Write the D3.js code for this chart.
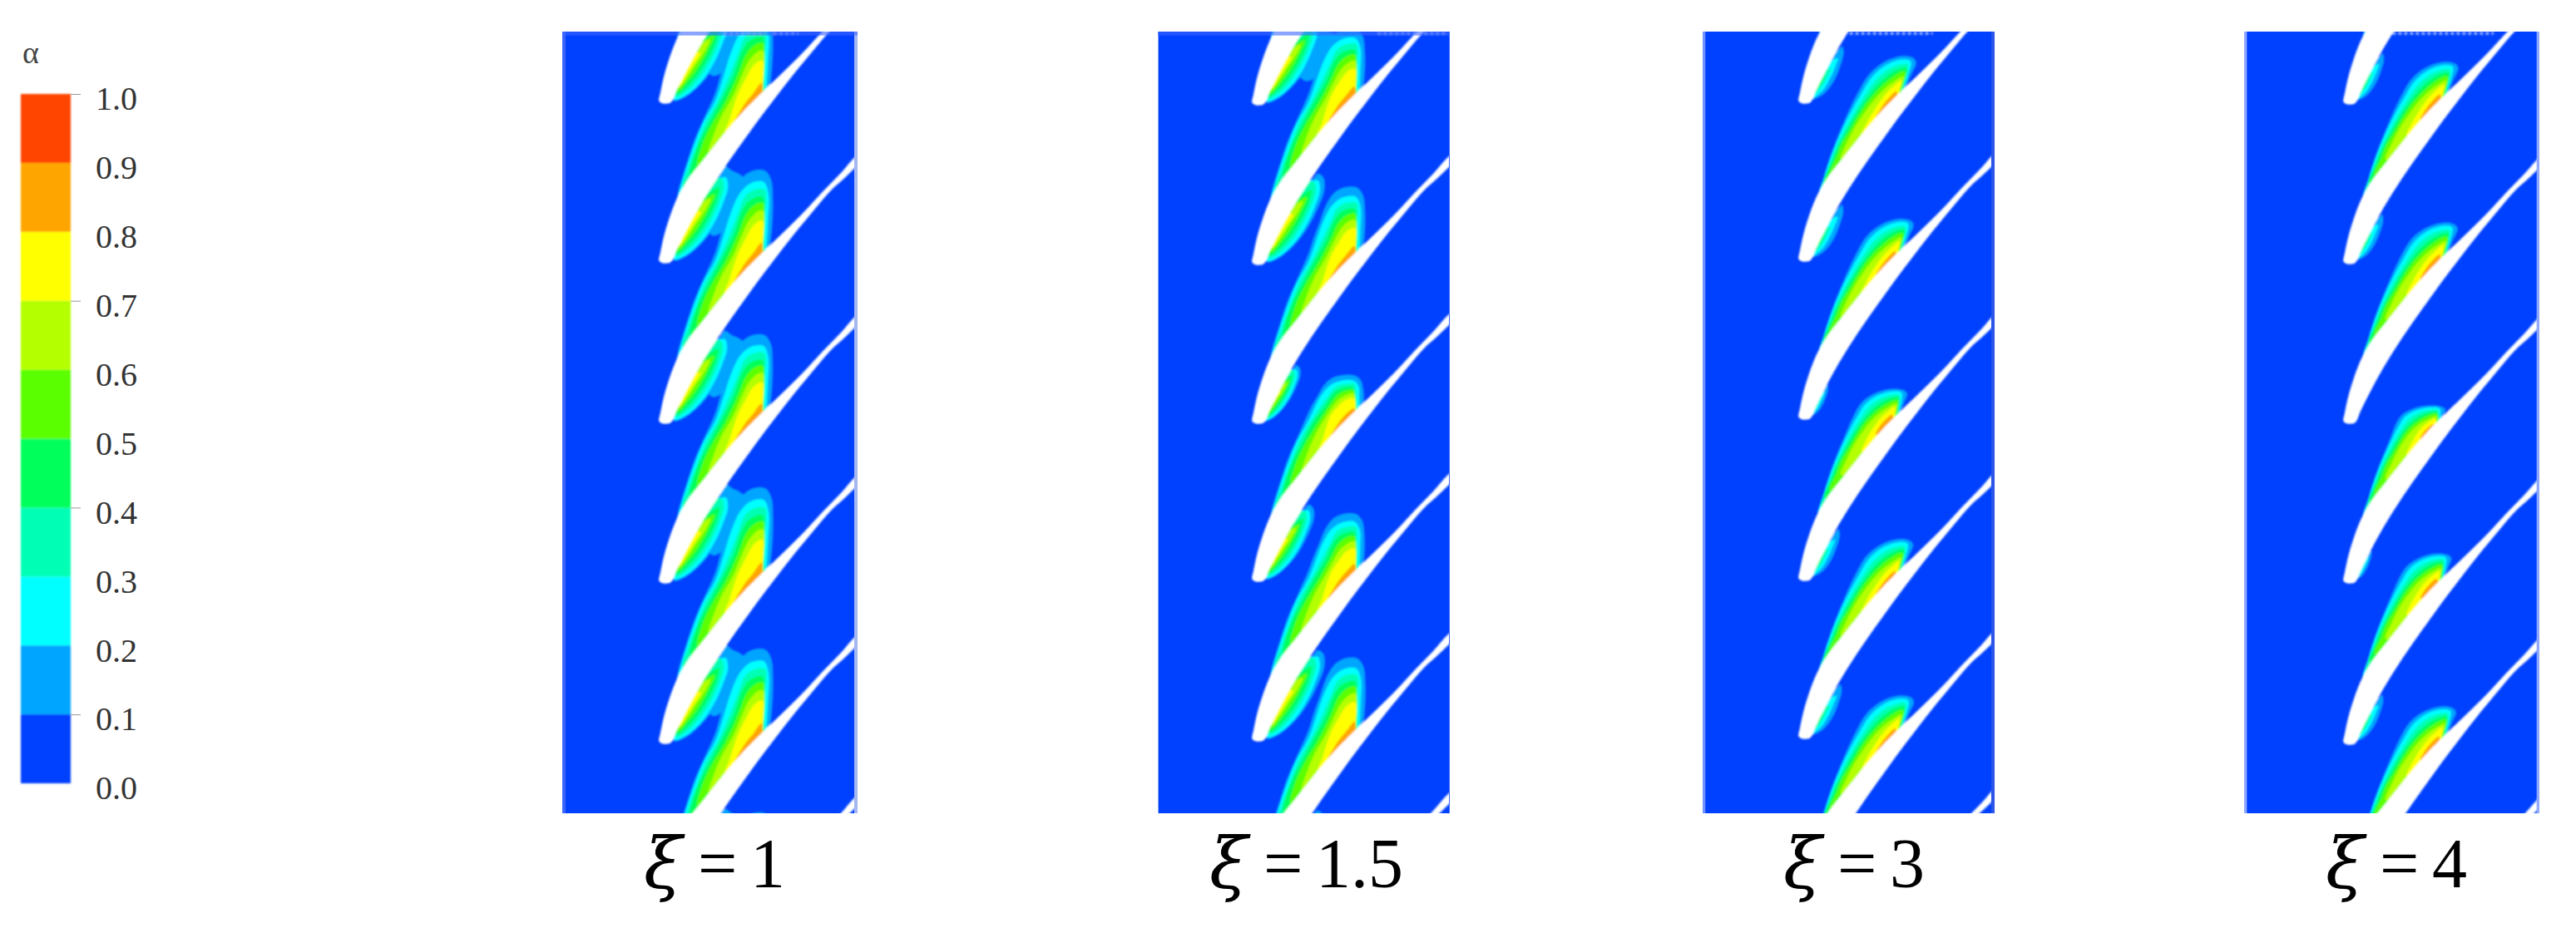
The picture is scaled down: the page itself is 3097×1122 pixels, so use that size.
<!DOCTYPE html>
<html>
<head>
<meta charset="utf-8">
<title>Volume fraction contours</title>
<script src="https://cdn.jsdelivr.net/npm/d3@7"></script>
<style>
    html, body { margin: 0; padding: 0; background: #fff; }
    svg { display: block; }
    text { font-family: "Liberation Serif", serif; }
</style>
</head>
<body>
<div id="my_dataviz"></div>
<script>
// Colour bar values
var levelLabels = [1.0, 0.9, 0.8, 0.7, 0.6, 0.5, 0.4, 0.3, 0.2, 0.1, 0.0];
var levelTicks = [1.0, 0.7, 0.4, 0.1];
var bandColors = ["#0040ff", "#00a5ff", "#00ffff", "#00ffb4", "#00ff5a", "#5aff00", "#b4ff00", "#ffff00", "#ffa500", "#ff4500"];

// Panels
var xiValues = ["1", "1.5", "3", "4"];
var panelKinds = ["A", "A", "B", "B"];
var panelWidths = [1065, 1053, 1053, 1065];

// Blade leading edge position in each panel, in units of a third of an image pixel
var tipX = [372, 363, 369, 381];
var tipY = [
    [-321, 255, 831, 1410, 1986, 2565, 3141, 3720],
    [-315, 261, 837, 1410, 1980, 2556, 3132, 3708],
    [-315, 255, 825, 1395, 1977, 2547, 3117, 3687],
    [-318, 258, 834, 1410, 1986, 2568, 3144, 3720]
];

// Height of the two cavities above each leading edge (0 = none)
var rearHeight = [
    [330, 330, 329, 315, 338, 335, 321, 0],
    [300, 270, 275, 170, 240, 295, 300, 0],
    [148, 165, 148, 105, 145, 150, 148, 0],
    [148, 147, 143, 60, 102, 132, 148, 0]
];
var frontHeight = [
    [315, 315, 320, 315, 320, 320, 320, 0],
    [300, 300, 315, 200, 265, 315, 312, 0],
    [190, 200, 198, 120, 180, 190, 190, 0],
    [190, 177, 173, 55, 113, 173, 173, 0]
];
var bridged = [
    [1, 1, 1, 1, 1, 1, 1, 0],
    [1, 1, 0, 0, 0, 0, 0, 0],
    [0, 0, 0, 0, 0, 0, 0, 0],
    [0, 0, 0, 0, 0, 0, 0, 0]
];

var bladeOrigin = [420, 885];
var bladeOutline = [
    [397, 880], [402, 850], [415, 790], [437, 718], [462, 655], [490, 605], [520, 562], [560, 512], [600, 462],
    [640, 412], [680, 365], [720, 322], [770, 272], [850, 195], [925, 120], [985, 55], [1050, -12], [1120, -83],
    [1140, -78], [1075, -5], [1015, 50], [955, 120], [885, 205], [830, 275], [770, 354], [720, 422], [680, 478],
    [640, 535], [580, 625], [530, 708], [490, 782], [460, 842], [440, 885], [420, 890], [405, 887]
];

// Rear cavity contours for xi = 1, 1.5, lowest level first
var rearOriginA = [420, 885];
var rearPivotA = -35;
var rearShearA = 0.1;
var rearTopA = 329;
var rearBandsA = [
    [[460, 1265], [468, 1200], [495, 1110], [525, 1020], [560, 940], [600, 850], [620, 780], [640, 720], [665, 640], [698, 580], [735, 556], [780, 556], [802, 590], [808, 660], [805, 760], [795, 840]],
    [[468, 1230], [490, 1140], [520, 1050], [555, 960], [600, 880], [630, 790], [655, 710], [690, 635], [730, 600], [775, 597], [792, 640], [790, 740], [785, 840]],
    [[482, 1190], [500, 1130], [530, 1050], [565, 960], [610, 880], [650, 790], [680, 715], [710, 645], [750, 622], [778, 625], [780, 720], [778, 845]],
    [[512, 1150], [535, 1045], [575, 965], [620, 880], [665, 790], [695, 705], [722, 665], [770, 650], [775, 720], [775, 850]],
    [[537, 1120], [552, 1040], [590, 960], [635, 885], [680, 790], [710, 715], [740, 680], [772, 672], [774, 740], [773, 850]],
    [[578, 1070], [595, 1000], [622, 935], [665, 860], [695, 790], [722, 735], [755, 702], [772, 700], [773, 850]],
    [[634, 1000], [650, 950], [680, 860], [710, 800], [740, 750], [770, 735], [772, 850]],
    [[665, 975], [700, 900], [735, 855], [767, 815], [772, 855]]
];
var rearHiddenA = [[785, 880], [720, 960], [660, 1040], [590, 1110], [530, 1180], [480, 1260]];
var bridgeBand = [[600, 600], [635, 540], [660, 555], [690, 570], [720, 600], [700, 680], [650, 740], [620, 780], [590, 790], [540, 700]];

// Rear cavity contours for xi = 3, 4
var rearOriginB = [420, 620];
var rearPivotB = 60;
var rearShearB = 0.6;
var rearTopB = 148;
var rearBandsB = [
    [[462, 1000], [480, 925], [500, 850], [530, 765], [565, 680], [605, 595], [645, 530], [700, 488], [760, 470], [800, 476], [812, 492], [795, 535], [772, 590], [760, 640]],
    [[468, 975], [490, 885], [512, 820], [542, 745], [577, 672], [617, 600], [655, 540], [705, 500], [760, 482], [792, 488], [785, 535], [765, 600], [755, 640]],
    [[478, 940], [500, 870], [525, 800], [555, 735], [590, 670], [628, 608], [665, 555], [712, 515], [760, 497], [782, 498], [775, 560], [755, 640]],
    [[490, 905], [515, 840], [538, 785], [568, 728], [602, 668], [640, 612], [678, 565], [722, 528], [762, 510], [778, 510], [768, 570], [750, 640]],
    [[510, 880], [535, 815], [555, 765], [582, 722], [615, 665], [650, 615], [690, 572], [730, 540], [765, 522], [775, 525], [765, 570], [750, 640]],
    [[550, 825], [572, 765], [600, 710], [630, 665], [665, 618], [702, 580], [740, 552], [768, 538], [760, 580], [745, 630]],
    [[625, 740], [645, 690], [672, 645], [705, 600], [738, 568], [760, 552], [755, 590], [745, 625]],
    [[675, 680], [692, 645], [715, 615], [745, 588], [748, 610], [720, 650]]
];
var rearHiddenB = [[775, 610], [710, 690], [650, 780], [580, 860], [520, 960], [470, 1060]];

// Front cavity contours for xi = 1, 1.5
var frontOriginA = [400, 890];
var frontTopA = 315;
var frontBandsA = [
    [[430, 885], [475, 870], [528, 825], [575, 765], [612, 695], [638, 625], [635, 580], [615, 565], [595, 585]],
    [[432, 880], [478, 862], [530, 815], [574, 750], [605, 680], [622, 625], [615, 590], [600, 590]],
    [[438, 870], [480, 848], [525, 800], [566, 735], [595, 670], [608, 625], [600, 595]],
    [[442, 860], [480, 832], [520, 785], [560, 720], [585, 660], [590, 625]],
    [[445, 850], [482, 812], [518, 765], [552, 705], [575, 650]],
    [[448, 838], [480, 800], [512, 750], [545, 700], [560, 665]],
    [[452, 830], [478, 790], [500, 755], [525, 712]]
];
var frontHiddenA = [[560, 600], [480, 720], [430, 840]];

// Front cavity contours for xi = 3, 4
var frontOriginB = [420, 1190];
var frontTopB = 190;
var frontBandsB = [
    [[440, 1180], [480, 1165], [515, 1125], [540, 1070], [553, 1020], [548, 998], [535, 1010]],
    [[445, 1175], [480, 1150], [505, 1110], [525, 1065], [533, 1040], [525, 1040]],
    [[448, 1165], [478, 1135], [500, 1095], [510, 1075]],
    [[448, 1158], [472, 1128], [490, 1098]],
    [[445, 1150], [465, 1125], [478, 1105]]
];
var frontHiddenB = [[510, 1020], [470, 1090], [440, 1160]];

// Lighter rims of the pasted images: left, right, top (width in units, colour)
var rimLeft = [[12, "#3a66ff"], [3, "#8fa8ff"], [10, "#6f92ff"], [10, "#8fa8ff"]];
var rimRight = [[12, "#a6b6f2"], [3, "#3a66ff"], [12, "#2b56e6"], [10, "#8fa8ff"]];
var rimTop = [[14, "#3a66ff"], [14, "#3a66ff"], [0, "#0040ff"], [0, "#0040ff"]];
// Mesh noise along the top edge: start, end in units from the panel's left edge
var topNoise = [[[582, 732], [762, 852]], [[793, 1040]], [[530, 830]], [[535, 900]]];

// Layout
var panelLeft = [676, 1392, 2047, 2698];
var panelTop = 38, panelBottom = 978;
var xiLeft = [778, 1458, 2148, 2800];

var svg = d3.select("#my_dataviz").append("svg")
    .attr("width", 3097)
    .attr("height", 1122);

var defs = svg.append("defs");
var soft = defs.append("filter").attr("id", "soft")
    .attr("x", "-5%").attr("y", "-5%").attr("width", "110%").attr("height", "110%");
soft.append("feGaussianBlur").attr("stdDeviation", 1.2);

drawColorbar();
panelKinds.forEach(drawPanel);
xiValues.forEach(drawLabel);

//Draw the colour bar with its labels and the four tick marks
function drawColorbar() {
    var y = d3.scaleLinear().domain([0, 1]).range([942, 113]);
    var bar = svg.append("g").attr("filter", "url(#soft)");

    bar.selectAll("rect")
        .data(bandColors)
        .enter()
        .append("rect")
        .attr("x", 25)
        .attr("width", 60)
        .attr("y", function (d, i) { return y((i + 1) / 10); })
        .attr("height", function (d, i) { return y(i / 10) - y((i + 1) / 10); })
        .attr("fill", function (d) { return d; });

    var labels = svg.append("g")
        .attr("transform", "translate(85,6)")
        .call(d3.axisRight(y).tickValues(levelLabels).tickSize(0).tickPadding(30).tickFormat(d3.format(".1f")));
    labels.select(".domain").remove();
    labels.selectAll("text").attr("font-size", 40).attr("fill", "#333").style("font-family", "Liberation Serif");

    var ticks = svg.append("g")
        .attr("transform", "translate(85,0)")
        .call(d3.axisRight(y).tickValues(levelTicks).tickSize(12).tickFormat(""));
    ticks.select(".domain").remove();
    ticks.selectAll("line").attr("stroke", "#999").attr("stroke-width", 1);

    svg.append("text")
        .attr("x", 27)
        .attr("y", 76)
        .attr("font-size", 38)
        .attr("fill", "#444")
        .text("α");
}

//Points of one contour, moved to a leading edge. The part above the pivot is squeezed to the read height
function rearShape(kind, band, tx, ty, height) {
    var origin = kind === "A" ? rearOriginA : rearOriginB;
    var pivot = kind === "A" ? rearPivotA : rearPivotB;
    var shear = kind === "A" ? rearShearA : rearShearB;
    var top = kind === "A" ? rearTopA : rearTopB;
    var k = (height + pivot) / (top + pivot);
    return band.map(function (p) {
        var dx = p[0] - origin[0], dy = p[1] - origin[1];
        if (dy < pivot) {
            dx -= shear * (1 - k) * (pivot - dy);
            dy = pivot + (dy - pivot) * k;
        }
        return [tx + dx, ty + dy];
    });
}

function frontShape(kind, band, tx, ty, height) {
    var origin = kind === "A" ? frontOriginA : frontOriginB;
    var top = kind === "A" ? frontTopA : frontTopB;
    var k = height / top;
    return band.map(function (p) {
        return [tx + (p[0] - origin[0]) * k, ty + (p[1] - origin[1]) * k];
    });
}

//Draw one contour panel
function drawPanel(kind, n) {
    var w = panelWidths[n];
    var x = d3.scaleLinear().domain([0, w]).range([panelLeft[n], panelLeft[n] + w / 3]);
    var y = d3.scaleLinear().domain([0, 2820]).range([panelTop, panelBottom]);
    var line = d3.line()
        .x(function (d) { return x(d[0]); })
        .y(function (d) { return y(d[1]); })
        .curve(d3.curveCatmullRomClosed.alpha(0.5));

    defs.append("clipPath").attr("id", "panel-" + n)
        .append("rect")
        .attr("x", x(0)).attr("y", y(0))
        .attr("width", x(w) - x(0)).attr("height", y(2820) - y(0));

    var rearBands = kind === "A" ? rearBandsA : rearBandsB;
    var rearHidden = kind === "A" ? rearHiddenA : rearHiddenB;
    var frontBands = kind === "A" ? frontBandsA : frontBandsB;
    var frontHidden = kind === "A" ? frontHiddenA : frontHiddenB;

    var shapes = [];
    tipY[n].forEach(function (ty, j) {
        var tx = tipX[n];
        if (rearHeight[n][j] > 0) {
            rearBands.forEach(function (band, b) {
                var closed = band.concat(rearHidden.filter(function (h) { return h[1] < band[0][1]; }));
                shapes.push({ band: b + 1, points: rearShape(kind, closed, tx, ty, rearHeight[n][j]) });
            });
        }
        if (frontHeight[n][j] > 0) {
            frontBands.forEach(function (band, b) {
                var closed = band.concat(frontHidden.filter(function (h) { return h[1] > band[band.length - 1][1]; }));
                shapes.push({ band: b + 1, points: frontShape(kind, closed, tx, ty, frontHeight[n][j]) });
            });
        }
        if (bridged[n][j] === 1) {
            shapes.push({ band: 1, points: rearShape(kind, bridgeBand, tx, ty, rearHeight[n][j]) });
        }
    });
    // Higher levels always lie on top of lower ones
    shapes.sort(function (a, b) { return a.band - b.band; });

    var panel = svg.append("g").attr("clip-path", "url(#panel-" + n + ")");

    panel.append("rect")
        .attr("x", x(0)).attr("y", y(0))
        .attr("width", x(w) - x(0)).attr("height", y(2820) - y(0))
        .attr("fill", bandColors[0]);

    var field = panel.append("g").attr("filter", "url(#soft)");

    field.selectAll("path.band")
        .data(shapes)
        .enter()
        .append("path")
        .attr("class", "band")
        .attr("d", function (d) { return line(d.points); })
        .attr("fill", function (d) { return bandColors[d.band]; });

    field.selectAll("path.blade")
        .data(tipY[n])
        .enter()
        .append("path")
        .attr("class", "blade")
        .attr("d", function (ty) {
            return line(bladeOutline.map(function (p) {
                return [tipX[n] + p[0] - bladeOrigin[0], ty + p[1] - bladeOrigin[1]];
            }));
        })
        .attr("fill", "#fff");

    // Mesh noise on the top edge
    field.selectAll("line.noise")
        .data(topNoise[n])
        .enter()
        .append("line")
        .attr("class", "noise")
        .attr("x1", function (d) { return x(d[0]); })
        .attr("x2", function (d) { return x(d[1]); })
        .attr("y1", y(6)).attr("y2", y(6))
        .attr("stroke", "#fff")
        .attr("stroke-width", 4)
        .attr("stroke-dasharray", "4 3")
        .attr("opacity", 0.55);

    panel.append("rect")
        .attr("x", x(0)).attr("y", y(0))
        .attr("width", x(rimLeft[n][0]) - x(0)).attr("height", y(2820) - y(0))
        .attr("fill", rimLeft[n][1]);
    panel.append("rect")
        .attr("x", x(w - rimRight[n][0])).attr("y", y(0))
        .attr("width", x(w) - x(w - rimRight[n][0])).attr("height", y(2820) - y(0))
        .attr("fill", rimRight[n][1]);
    panel.append("rect")
        .attr("x", x(0)).attr("y", y(0))
        .attr("width", x(w) - x(0)).attr("height", y(rimTop[n][0]) - y(0))
        .attr("fill", rimTop[n][1])
        .attr("opacity", 0.6);
}

//Print the xi label under a panel
function drawLabel(value, n) {
    var label = svg.append("text")
        .attr("y", 1067)
        .attr("fill", "#000");
    label.append("tspan")
        .attr("x", xiLeft[n] - 4)
        .attr("font-size", 84)
        .attr("font-style", "italic")
        .style("font-family", "DejaVu Serif")
        .text("ξ");
    label.append("tspan")
        .attr("x", xiLeft[n] + 61)
        .attr("font-size", 84)
        .text("=");
    label.append("tspan")
        .attr("x", xiLeft[n] + 124)
        .attr("font-size", 84)
        .text(value);
}
</script>
</body>
</html>
